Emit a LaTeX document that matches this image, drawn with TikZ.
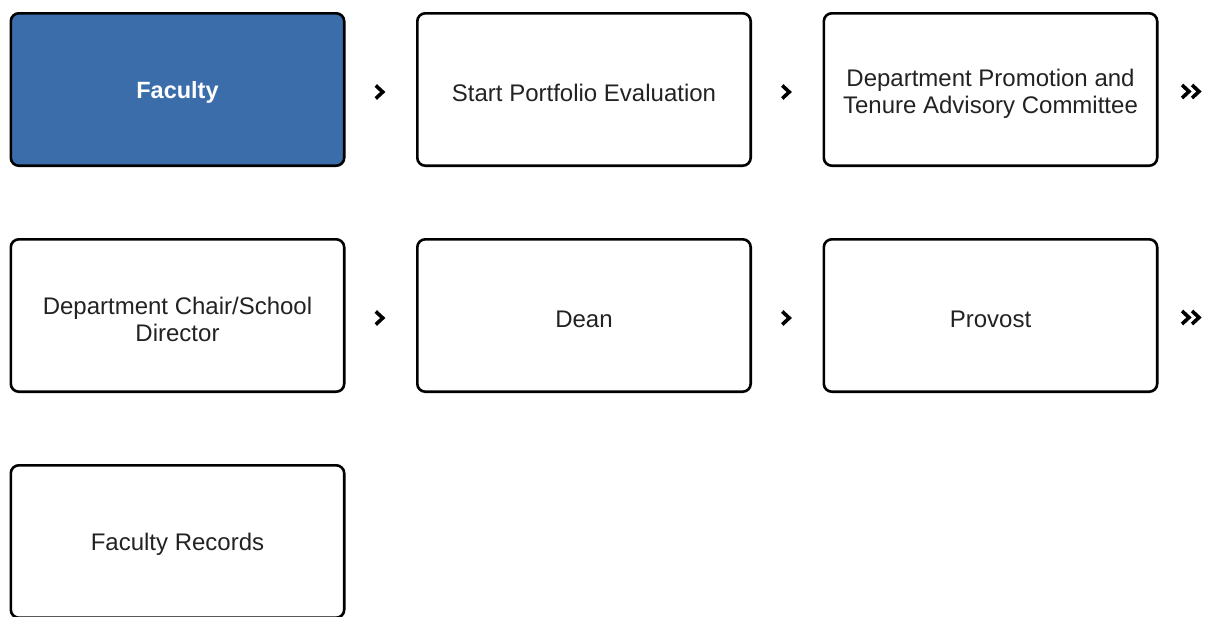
\documentclass[tikz,border=0pt]{standalone}
\usepackage{fontspec}
\setmainfont{Liberation Sans}
\usetikzlibrary{positioning,calc}
\definecolor{facblue}{HTML}{3A6DAA}
\definecolor{txtgray}{HTML}{222222}

\begin{document}
\begin{tikzpicture}[x=1pt,y=-1pt,
    box/.style={draw=black, line width=2.6pt, rounded corners=8pt,
        minimum width=333.4pt, minimum height=152.4pt, align=center,
        text=txtgray, font=\fontsize{24}{27}\selectfont,
        execute at begin node={\rule{0pt}{23.5pt}}},
    facbox/.style={box, fill=facblue, text=white,
        font=\fontsize{23.5}{27}\selectfont\bfseries},
    chev/.style={line width=3.6pt, miter limit=10},
    node distance=71pt and 70.5pt]
    \clip (0,0) rectangle (1206,616);
    \useasboundingbox (0,0) rectangle (1206,616);

    % First row
    \node[facbox] (fac) at (177.5,89.5) {Faculty};
    \node[box, right=of fac] (start) {Start Portfolio Evaluation};
    \node[box, right=of start] (dptac) {\rule{0pt}{25.5pt}Department Promotion and\\Tenure Advisory Committee};

    % Second row
    \node[box, below=of fac] (chair) {\rule{0pt}{25.5pt}Department Chair/School\\Director};
    \node[box, right=of chair] (dean) {Dean};
    \node[box, right=of dean] (prov) {Provost};

    % Third row
    \node[box, below=of chair] (rec) {Faculty Records};

    % Chevrons
    \coordinate (c1) at ($($(fac.east)!0.5!(start.west)$)+(-1,2.5)$);
    \coordinate (c2) at ($($(start.east)!0.5!(dptac.west)$)+(-1,2.5)$);
    \coordinate (c3) at ($(dptac.east)+(33,2)$);
    \coordinate (c4) at ($($(chair.east)!0.5!(dean.west)$)+(-1,2.5)$);
    \coordinate (c5) at ($($(dean.east)!0.5!(prov.west)$)+(-1,2.5)$);
    \coordinate (c6) at ($(prov.east)+(33,2)$);
    \foreach \c in {c1,c2,c4,c5}
        \draw[chev] ($(\c)+(-4,-6.5)$) -- ++(7,6.5) -- ++(-7,6.5);
    \foreach \c in {c3,c6}
        \foreach \dx in {-5.5,4.5}
            \draw[chev] ($(\c)+(\dx,0)+(-4,-6.5)$) -- ++(7,6.5) -- ++(-7,6.5);
\end{tikzpicture}
\end{document}
